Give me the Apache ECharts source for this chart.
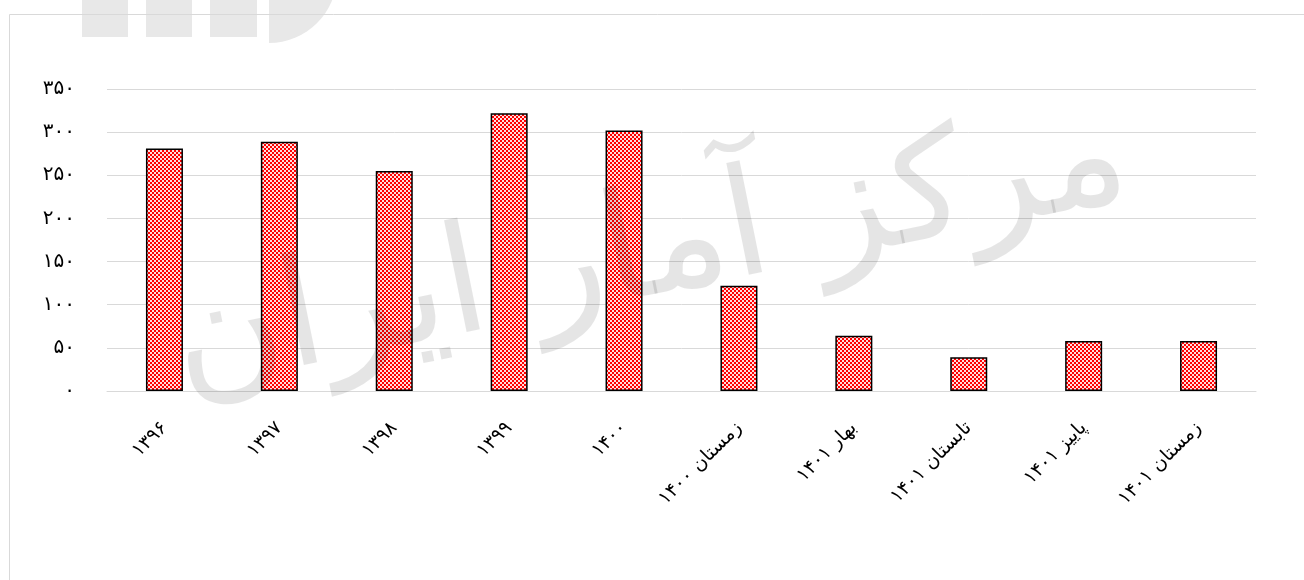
<!DOCTYPE html>
<html>
<head>
<meta charset="utf-8">
<script src="https://cdn.jsdelivr.net/npm/echarts@6/dist/echarts.min.js"></script>
<style>
html,body{margin:0;padding:0;background:#fff;}
#chart{width:1304px;height:580px;}
</style>
</head>
<body>
<div id="chart"></div>
<script>
const categories = ['۱۳۹۶', '۱۳۹۷', '۱۳۹۸', '۱۳۹۹', '۱۴۰۰', 'زمستان ۱۴۰۰', 'بهار ۱۴۰۱', 'تابستان ۱۴۰۱', 'پاییز ۱۴۰۱', 'زمستان ۱۴۰۱'];
const values = [281, 289, 255, 322, 302, 122, 64, 39, 58, 58];
const yTickLabels = ['۰', '۵۰', '۱۰۰', '۱۵۰', '۲۰۰', '۲۵۰', '۳۰۰', '۳۵۰'];
const watermarkText = 'مرکز آمار ایران';

function makePattern() {
  const c = document.createElement('canvas');
  c.width = 4; c.height = 4;
  const ctx = c.getContext('2d');
  ctx.fillStyle = '#ffdede';
  ctx.fillRect(0, 0, 4, 4);
  ctx.fillStyle = '#ff0000';
  ctx.fillRect(0, 0, 2, 2);
  ctx.fillRect(2, 2, 2, 2);
  return c;
}

const chart = echarts.init(document.getElementById('chart'), null, {renderer: 'canvas'});
const font = '"DejaVu Sans", sans-serif';
chart.setOption({
  animation: false,
  backgroundColor: '#fff',
  graphic: [
    {type: 'rect', z: -10, shape: {x: 82, y: 0, width: 46, height: 37}, style: {fill: '#e8e8e8'}},
    {type: 'rect', z: -10, shape: {x: 146, y: 0, width: 46, height: 37}, style: {fill: '#e8e8e8'}},
    {type: 'rect', z: -10, shape: {x: 210, y: 0, width: 47, height: 37}, style: {fill: '#e8e8e8'}},
    {type: 'sector', z: -10, shape: {cx: 269, cy: -25, r0: 0, r: 68, startAngle: 0, endAngle: Math.PI / 2}, style: {fill: '#e8e8e8'}},
    {type: 'text', z: 50, x: 650, y: 255, rotation: 0.2,
      style: {text: watermarkText, font: '150px "DejaVu Sans"', fill: 'rgba(0,0,0,0.10)', align: 'center', verticalAlign: 'middle'}},
    {type: 'rect', z: 100, shape: {x: 9.5, y: 14.5, width: 1400, height: 700}, style: {fill: 'none', stroke: '#d9d9d9', lineWidth: 1}}
  ],
  grid: {left: 107, right: 48, top: 89, bottom: 189, containLabel: false},
  xAxis: {
    type: 'category',
    data: categories,
    axisLine: {show: true, lineStyle: {color: '#d9d9d9', width: 1}},
    axisTick: {show: false},
    axisLabel: {rotate: 45, margin: 34, fontSize: 19, color: '#000', fontFamily: font, interval: 0}
  },
  yAxis: {
    type: 'value',
    min: 0, max: 350, interval: 50,
    axisLine: {show: false},
    axisTick: {show: false},
    splitLine: {lineStyle: {color: '#d9d9d9', width: 1}},
    axisLabel: {
      margin: 32, fontSize: 20, color: '#000', fontFamily: font,
      formatter: function (v) { return yTickLabels[Math.round(v / 50)]; }
    }
  },
  series: [{
    type: 'bar',
    data: values,
    barWidth: 37,
    itemStyle: {
      color: {image: makePattern(), repeat: 'repeat'},
      borderColor: '#000',
      borderWidth: 1.5
    }
  }]
});
</script>
</body>
</html>
